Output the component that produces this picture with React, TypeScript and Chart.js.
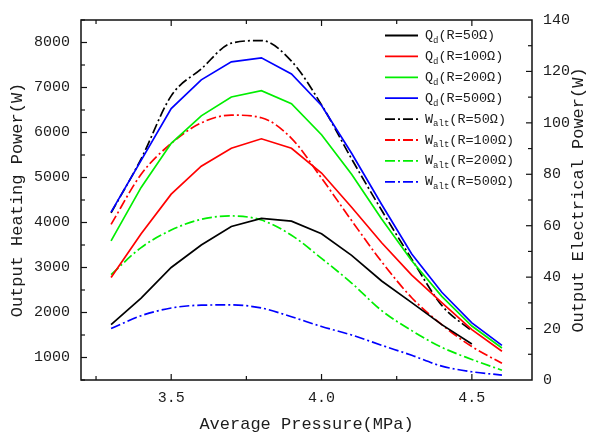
import React, { useEffect, useRef } from 'react';
import { Chart, registerables } from 'chart.js';

Chart.register(...registerables);

// ---- data ----
const pressure = [3.3, 3.4, 3.5, 3.6, 3.7, 3.8, 3.9, 4.0, 4.1, 4.2, 4.3, 4.4, 4.5, 4.6];

// Output heating power Q_d (W), left axis
const qdR50 = [1730, 2320, 3000, 3500, 3910, 4090, 4030, 3750, 3270, 2700, 2220, 1730, 1300, null];
const qdR100 = [2780, 3750, 4630, 5250, 5650, 5860, 5650, 5100, 4340, 3550, 2830, 2220, 1620, 1140];
const qdR200 = [3590, 4780, 5760, 6370, 6790, 6930, 6640, 5950, 5070, 4080, 3150, 2360, 1700, 1210];
const qdR500 = [4230, 5380, 6530, 7170, 7570, 7660, 7300, 6600, 5540, 4400, 3300, 2450, 1770, 1270];

// Output electrical power W_alt (W), right axis
const waltR50 = [65, 86, 110.5, 121, 131, 132, 124, 107, 86, 66, 47, 29, 19, null];
const waltR100 = [60.5, 80, 92, 100, 103, 102, 94, 78.5, 62, 46, 32, 21.5, 13, 6.5];
const waltR200 = [41, 51.5, 58.3, 62.5, 63.8, 62.2, 56.3, 47.3, 37.7, 27, 19.2, 12.7, 8, 3.8];
const waltR500 = [20, 25, 28, 29.1, 29.2, 28, 24.6, 20.8, 17.5, 13.5, 9.6, 5.4, 3.2, 1.9];

const seriesLabels = [
  'Q_d(R=50Ω)', 'Q_d(R=100Ω)', 'Q_d(R=200Ω)', 'Q_d(R=500Ω)',
  'W_alt(R=50Ω)', 'W_alt(R=100Ω)', 'W_alt(R=200Ω)', 'W_alt(R=500Ω)',
];

const xTicks = [3.5, 4.0, 4.5];
const leftTicks = [1000, 2000, 3000, 4000, 5000, 6000, 7000, 8000];
const rightTicks = [0, 20, 40, 60, 80, 100, 120, 140];

const xTitle = 'Average Pressure(MPa)';
const leftTitle = 'Output Heating Power(W)';
const rightTitle = 'Output Electrical Power(W)';

// ---- styles ----
const FONT = '"Liberation Mono", "DejaVu Sans Mono", monospace';
const TEXT = '#1c1c1c';
const BLACK = '#000000';
const RED = '#ff0000';
const GREEN = '#00ee00';
const BLUE = '#0000ff';
const DASHDOT = [10, 3, 2, 3];

const toPoints = (ys: (number | null)[]) => pressure.map((x, i) => ({ x, y: ys[i] }));

const legendPlugin = {
  id: 'subLegend',
  afterDraw(chart: any) {
    const ctx = chart.ctx as CanvasRenderingContext2D;
    const x0 = 385;
    const lineW = 33;
    const y0 = 35.5;
    const rowH = 20.9;
    chart.data.datasets.forEach((ds: any, i: number) => {
      const y = y0 + i * rowH;
      ctx.save();
      ctx.strokeStyle = ds.borderColor;
      ctx.lineWidth = 1.8;
      ctx.setLineDash(ds.borderDash || []);
      ctx.beginPath();
      ctx.moveTo(x0, y);
      ctx.lineTo(x0 + lineW, y);
      ctx.stroke();
      ctx.setLineDash([]);
      const m = /^(\w)_(\w+)(.*)$/.exec(ds.label) || ['', ds.label, '', ''];
      ctx.fillStyle = TEXT;
      ctx.textBaseline = 'middle';
      ctx.textAlign = 'left';
      let tx = x0 + lineW + 7;
      ctx.font = `13.5px ${FONT}`;
      ctx.fillText(m[1], tx, y);
      tx += ctx.measureText(m[1]).width;
      ctx.font = `9px ${FONT}`;
      ctx.fillText(m[2], tx, y + 5);
      tx += ctx.measureText(m[2]).width;
      ctx.font = `13.5px ${FONT}`;
      ctx.fillText(m[3], tx, y);
      ctx.restore();
    });
  },
};

const framePlugin = {
  id: 'frameTicks',
  afterDraw(chart: any) {
    const ctx = chart.ctx as CanvasRenderingContext2D;
    const a = chart.chartArea;
    const sx = chart.scales.x;
    const sy = chart.scales.y;
    const sy1 = chart.scales.y1;
    ctx.save();
    ctx.strokeStyle = '#111';
    ctx.lineWidth = 1.5;
    ctx.strokeRect(a.left, a.top, a.right - a.left, a.bottom - a.top);
    ctx.lineWidth = 1.2;
    const seg = (x1: number, y1: number, x2: number, y2: number) => {
      ctx.beginPath();
      ctx.moveTo(x1, y1);
      ctx.lineTo(x2, y2);
      ctx.stroke();
    };
    // x ticks (bottom and top), step 0.25
    for (let k = 13; k <= 18; k++) {
      const v = k * 0.25;
      const px = sx.getPixelForValue(v);
      const len = k % 2 === 0 ? 6 : 4;
      seg(px, a.bottom, px, a.bottom - len);
      seg(px, a.top, px, a.top + len);
    }
    // left ticks, step 500
    for (let k = 1; k <= 17; k++) {
      const v = k * 500;
      const py = sy.getPixelForValue(v);
      const len = k % 2 === 0 ? 6 : 4;
      seg(a.left, py, a.left + len, py);
    }
    // right ticks, step 10
    for (let k = 1; k <= 13; k++) {
      const v = k * 10;
      const py = sy1.getPixelForValue(v);
      const len = k % 2 === 0 ? 6 : 4;
      seg(a.right, py, a.right - len, py);
    }
    // right axis title, reading bottom-to-top
    ctx.fillStyle = TEXT;
    ctx.font = `17px ${FONT}`;
    ctx.textAlign = 'center';
    ctx.textBaseline = 'middle';
    ctx.translate(578, (a.top + a.bottom) / 2);
    ctx.rotate(-Math.PI / 2);
    ctx.fillText(rightTitle, 0, 0);
    ctx.restore();
  },
};

export default function App() {
  const canvasRef = useRef<HTMLCanvasElement | null>(null);

  useEffect(() => {
    const canvas = canvasRef.current;
    if (!canvas) return;
    const solid = (label: string, data: (number | null)[], color: string) => ({
      label,
      data: toPoints(data),
      borderColor: color,
      backgroundColor: color,
      borderWidth: 1.7,
      pointRadius: 0,
      tension: 0,
      yAxisID: 'y',
      spanGaps: false,
    });
    const dashed = (label: string, data: (number | null)[], color: string) => ({
      label,
      data: toPoints(data),
      borderColor: color,
      backgroundColor: color,
      borderWidth: 1.7,
      borderDash: DASHDOT,
      pointRadius: 0,
      cubicInterpolationMode: 'monotone',
      yAxisID: 'y1',
      spanGaps: false,
    });

    const chart = new Chart(canvas, {
      type: 'line',
      data: {
        datasets: [
          solid(seriesLabels[0], qdR50, BLACK),
          solid(seriesLabels[1], qdR100, RED),
          solid(seriesLabels[2], qdR200, GREEN),
          solid(seriesLabels[3], qdR500, BLUE),
          dashed(seriesLabels[4], waltR50, BLACK),
          dashed(seriesLabels[5], waltR100, RED),
          dashed(seriesLabels[6], waltR200, GREEN),
          dashed(seriesLabels[7], waltR500, BLUE),
        ] as any,
      },
      options: {
        animation: false,
        responsive: false,
        maintainAspectRatio: false,
        layout: { padding: { top: 15, left: 0, right: 0, bottom: 0 } },
        plugins: {
          legend: { display: false },
          tooltip: { enabled: false },
        },
        scales: {
          x: {
            type: 'linear',
            min: 3.2,
            max: 4.7,
            afterBuildTicks: (s: any) => {
              s.ticks = xTicks.map((v) => ({ value: v }));
            },
            afterFit: (s: any) => {
              s.height = 56;
            },
            grid: { display: false, drawTicks: false },
            border: { display: false },
            ticks: {
              padding: 9,
              color: TEXT,
              font: { family: FONT, size: 15 },
              callback: (v: any) => Number(v).toFixed(1),
            },
            title: {
              display: true,
              text: xTitle,
              color: TEXT,
              font: { family: FONT, size: 17 },
              padding: { top: 0, bottom: 1 },
            },
          },
          y: {
            position: 'left',
            min: 500,
            max: 8500,
            afterBuildTicks: (s: any) => {
              s.ticks = leftTicks.map((v) => ({ value: v }));
            },
            afterFit: (s: any) => {
              s.width = 81;
            },
            grid: { display: false, drawTicks: false },
            border: { display: false },
            ticks: {
              padding: 11,
              color: TEXT,
              font: { family: FONT, size: 15 },
              callback: (v: any) => String(v),
            },
            title: {
              display: true,
              text: leftTitle,
              color: TEXT,
              font: { family: FONT, size: 17 },
              padding: { top: 7, bottom: 0 },
            },
          },
          y1: {
            position: 'right',
            min: 0,
            max: 140,
            afterBuildTicks: (s: any) => {
              s.ticks = rightTicks.map((v) => ({ value: v }));
            },
            afterFit: (s: any) => {
              s.width = 60;
            },
            grid: { display: false, drawTicks: false },
            border: { display: false },
            ticks: {
              padding: 11,
              color: TEXT,
              font: { family: FONT, size: 15 },
              callback: (v: any) => String(v),
            },
          },
        },
      } as any,
      plugins: [framePlugin, legendPlugin],
    });
    return () => chart.destroy();
  }, []);

  return (
    <div style={{ position: 'absolute', left: 0, top: 0, width: 592, height: 436, background: '#fff' }}>
      <canvas ref={canvasRef} width={592} height={436} style={{ display: 'block', width: 592, height: 436 }} />
    </div>
  );
}
